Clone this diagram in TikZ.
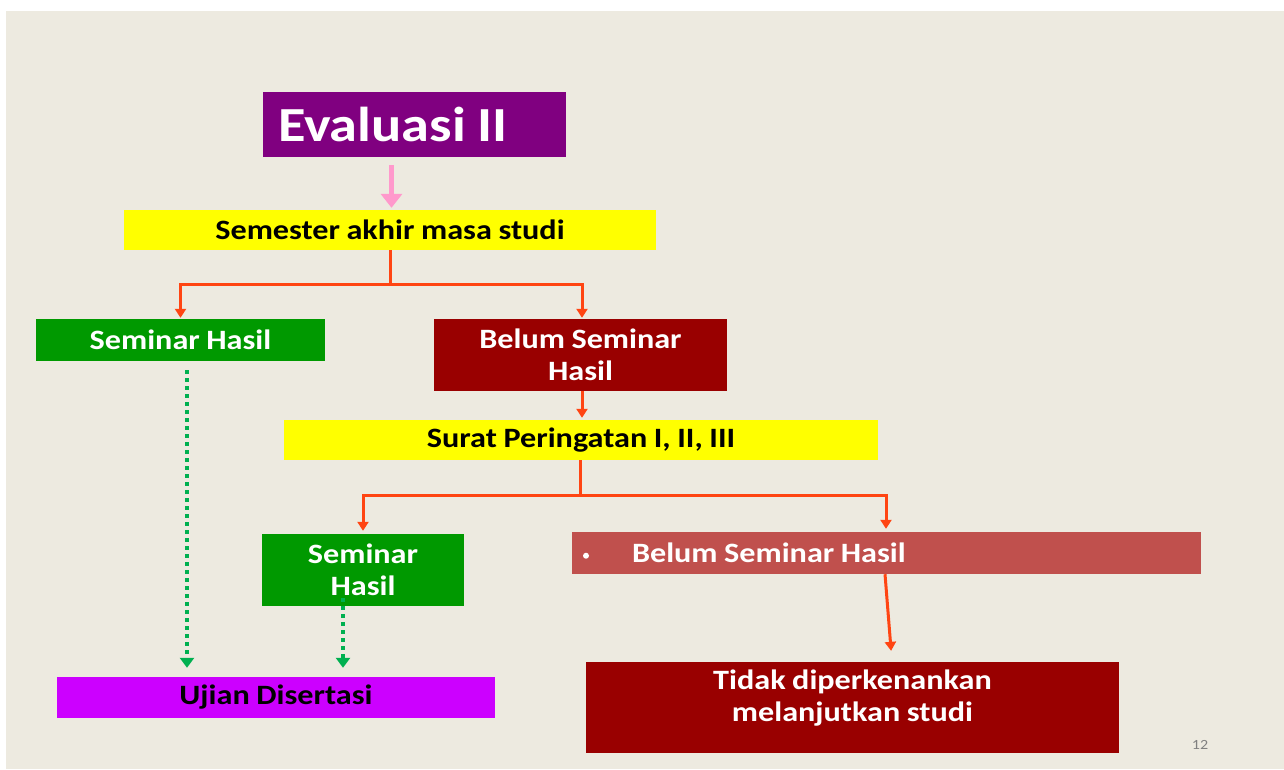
\documentclass[tikz,border=0pt]{standalone}
\usepackage{fontspec}
\setmainfont[FakeStretch=1.15, WordSpace=0.9]{Carlito}
\usetikzlibrary{arrows.meta}
\definecolor{bgc}{HTML}{EDEAE0}
\definecolor{purp}{HTML}{800080}
\definecolor{yel}{HTML}{FFFF00}
\definecolor{grn}{HTML}{009900}
\definecolor{dred}{HTML}{990000}
\definecolor{lred}{HTML}{C0504D}
\definecolor{mag}{HTML}{CC00FF}
\definecolor{orng}{HTML}{FF4513}
\definecolor{pnk}{HTML}{FF99CC}
\definecolor{dgrn}{HTML}{00B050}
\tikzset{
  box/.style={rectangle, inner sep=0pt, align=center, font=\bfseries\fontsize{28}{31.5}\selectfont},
  wbox/.style={box, text=white},
  kbox/.style={box, text=black},
  conn/.style={draw=orng, line width=3pt, -{Triangle[width=11pt,length=9pt]}},
  dotconn/.style={draw=dgrn, line width=4pt, dash pattern=on 4pt off 4pt, -{Triangle[width=14pt,length=10pt]}},
  pinkconn/.style={draw=pnk, line width=5pt, -{Triangle[width=21pt,length=14pt]}}
}
\begin{document}
\begin{tikzpicture}[x=1pt,y=-1pt]
\useasboundingbox (0,0) rectangle (1284,769);
\fill[white] (0,0) rectangle (1284,769);
\fill[bgc] (6,11) rectangle (1284,769);

\node[wbox, fill=purp, minimum width=303pt, minimum height=65pt, text width=273pt, align=flush left, font=\bfseries\fontsize{49}{54}\selectfont] (eval) at (414.5,124.5) {Evaluasi II};
\node[kbox, fill=yel, minimum width=532pt, minimum height=40pt] (sem) at (390,230) {Semester akhir masa studi};
\node[wbox, fill=grn, minimum width=289pt, minimum height=42pt] (sh1) at (180.5,340) {Seminar Hasil};
\node[wbox, fill=dred, minimum width=293pt, minimum height=72pt] (bsh) at (580.5,355) {Belum Seminar\\Hasil};
\node[kbox, fill=yel, minimum width=594pt, minimum height=40pt] (sp) at (581,440) {Surat Peringatan I, II, III};
\node[wbox, fill=grn, minimum width=202pt, minimum height=72pt] (sh2) at (363,570) {Seminar\\Hasil};
\node[wbox, fill=lred, minimum width=629pt, minimum height=42pt, text width=611pt, align=flush left] (bsh2) at (886.5,553) {\hspace{2pt}\raisebox{4pt}{\tikz\fill[white] (0,0) circle (3pt);}\hspace{43pt}Belum Seminar Hasil};
\node[fill=dred, minimum width=533pt, minimum height=91pt, inner sep=0pt] (tdk) at (852.5,707.5) {};
\node[wbox] (tdktxt) at ([yshift=9.5pt]tdk.center) {Tidak diperkenankan\\melanjutkan studi};
\node[kbox, fill=mag, minimum width=438pt, minimum height=41pt] (uji) at (276,697.5) {Ujian Disertasi};
\node[text=gray, font=\fontsize{14}{16}\selectfont] (pg) at (1200,745) {12};

\path[pinkconn, shorten <=8pt, shorten >=2pt] ([xshift=-23pt]eval.south) -- ([xshift=-23pt]eval.south |- sem.north);
\draw[conn, shorten >=1pt] (sem.south) -- ++(0,34) -| (sh1.north);
\draw[conn, shorten >=1pt] (sem.south) -- ++(0,34) -| ([xshift=1.5pt]bsh.north);
\draw[conn, shorten >=2pt] ([xshift=1.5pt]bsh.south) -- ([xshift=1.5pt]bsh.south |- sp.north);
\draw[conn, shorten >=3pt] ([xshift=-1pt]sp.south) -- ++(0,35) -| (sh2.north);
\draw[conn, shorten >=3pt] ([xshift=-1pt]sp.south) -- ++(0,35) -| ([xshift=-0.5pt]bsh2.north);
\draw[conn, shorten >=11pt] ([xshift=-1.5pt]bsh2.south) -- ([xshift=39.5pt]tdk.north);
\draw[dotconn, shorten <=9pt, shorten >=9pt] ([xshift=6.5pt]sh1.south) -- ([xshift=6.5pt]sh1.south |- uji.north);
\draw[dotconn, shorten <=-8pt, shorten >=9pt] ([xshift=-20pt]sh2.south) -- ([xshift=-20pt]sh2.south |- uji.north);
\end{tikzpicture}
\end{document}
